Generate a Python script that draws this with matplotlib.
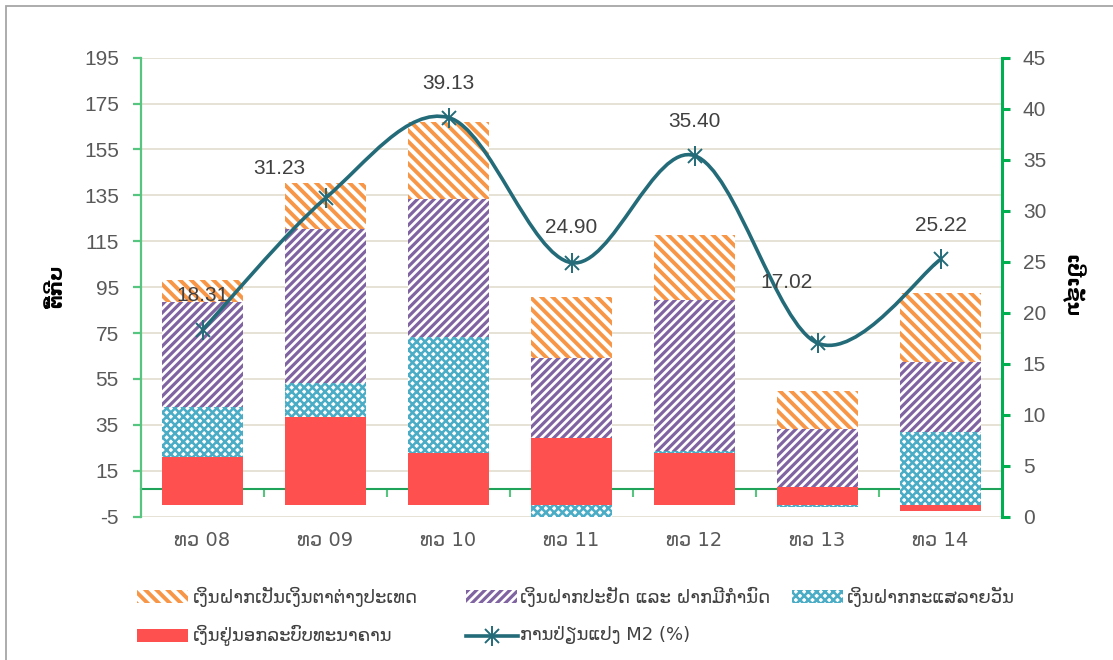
import numpy as np
import matplotlib
matplotlib.use('Agg')
import matplotlib.pyplot as plt
from matplotlib.patches import Rectangle, PathPatch
from matplotlib.path import Path
from matplotlib.lines import Line2D

# ---------------- data ----------------
categories = ['ທວ 08', 'ທວ 09', 'ທວ 10', 'ທວ 11', 'ທວ 12', 'ທວ 13', 'ທວ 14']
currency_outside_banks = [21.0, 38.6, 22.9, 29.2, 22.9, 7.8, -2.6]      # red
demand_deposits = [21.7, 14.6, 50.4, -5.0, 0.6, -0.7, 31.8]             # blue
savings_time_deposits = [46.0, 67.0, 60.1, 34.9, 65.9, 25.3, 30.6]      # purple
foreign_currency_deposits = [9.4, 20.0, 33.5, 26.6, 28.3, 16.8, 30.1]   # orange
m2_growth = [18.31, 31.23, 39.13, 24.90, 35.40, 17.02, 25.22]

name_fx = 'ເງິນຝາກເປັນເງິນຕາຕ່າງປະເທດ'
name_sav = 'ເງິນຝາກປະຢັດ ແລະ ຝາກມີກຳນົດ'
name_dem = 'ເງິນຝາກກະແສລາຍວັນ'
name_cur = 'ເງິນຢູ່ນອກລະບົບທະນາຄານ'
name_m2 = 'ການປ່ຽນແປງ M2 (%)'
left_title = 'ຕື້ກີບ'
right_title = 'ເປີເຊັນ'
left_ticks = list(range(-5, 196, 20))
right_ticks = list(range(0, 46, 5))

# ---------------- style ----------------
C_ORANGE = '#F79646'
C_PURPLE = '#8064A2'
C_BLUE = '#4BACC6'
C_RED = '#FF5050'
C_LINE = '#236B78'
C_GREEN = '#00B050'
C_GREEN_L = '#55C57F'
C_TICK = '#595959'
C_GRID = '#E4DFD2'
FONT = ['DejaVu Sans']
NUMFONT = ['Liberation Sans', 'DejaVu Sans']
H_ORANGE = '\\\\\\'
H_PURPLE = '////'
H_BLUE = 'xxxx'
HLW_ORANGE = 2.8
HLW_PURPLE = 2.3
HLW_BLUE = 1.85

plt.rcParams['font.family'] = FONT
plt.rcParams['hatch.linewidth'] = HLW_PURPLE
plt.rcParams['axes.unicode_minus'] = False

W, H = 1113, 660
fig = plt.figure(figsize=(W / 100, H / 100), dpi=100)
fx = lambda px: px / W
fy = lambda py: 1 - py / H

ax = fig.add_axes([fx(141), fy(516.7), fx(1002) - fx(141), fy(57.7) - fy(516.7)])
x = np.arange(len(categories))
ax.set_xlim(-0.5, len(categories) - 0.5)
ax.set_ylim(-5, 195)

# stacked bars (positive and negative stacks separately)
series = [
    (currency_outside_banks, dict(color=C_RED, linewidth=0), HLW_PURPLE),
    (demand_deposits, dict(facecolor='white', edgecolor=C_BLUE, hatch=H_BLUE, linewidth=0), HLW_BLUE),
    (savings_time_deposits, dict(facecolor='white', edgecolor=C_PURPLE, hatch=H_PURPLE, linewidth=0), HLW_PURPLE),
    (foreign_currency_deposits, dict(facecolor='white', edgecolor=C_ORANGE, hatch=H_ORANGE, linewidth=0), HLW_ORANGE),
]
pos_b = np.zeros(len(x))
neg_b = np.zeros(len(x))
bw = 0.663
for vals, kw, hlw in series:
    v = np.array(vals, dtype=float)
    bottom = np.where(v >= 0, pos_b, neg_b)
    with plt.rc_context({'hatch.linewidth': hlw}):
        bars = ax.bar(x, v, bottom=bottom, width=bw, zorder=2, **kw)
        for b in bars:
            if hasattr(b, 'set_hatch_linewidth'):
                b.set_hatch_linewidth(hlw)
    pos_b = pos_b + np.where(v >= 0, v, 0)
    neg_b = neg_b + np.where(v < 0, v, 0)

ax.set_yticks(left_ticks)
ax.yaxis.grid(True, color=C_GRID, linewidth=1.3)
ax.set_axisbelow(True)
for s in ['top', 'right', 'bottom']:
    ax.spines[s].set_visible(False)
ax.spines['left'].set_color(C_GREEN_L)
ax.spines['left'].set_linewidth(1.6)
ax.tick_params(axis='y', length=6, width=1.6, color=C_GREEN_L, labelcolor=C_TICK,
               labelsize=15, pad=10)
for t in ax.get_yticklabels():
    t.set_family(NUMFONT)
ax.set_xticks(x)
ax.set_xticklabels(categories)
ax.tick_params(axis='x', length=0, labelcolor=C_TICK, labelsize=14, pad=10)

# green category axis line crossing above the bottom
sec = ax.secondary_xaxis((6.9 + 5) / 200)
sec.set_xticks(x[:-1] + 0.5)
sec.tick_params(axis='x', direction='out', length=6, width=1.5, color=C_GREEN_L,
                labelbottom=False, labeltop=False)
for s in sec.spines.values():
    s.set_color('#1FA35A')
    s.set_linewidth(1.5)

# right axis
ax2 = ax.twinx()
ax2.set_ylim(0, 45)
ax2.set_yticks(right_ticks)
for s in ['top', 'left', 'bottom']:
    ax2.spines[s].set_visible(False)
ax2.spines['right'].set_color(C_GREEN)
ax2.spines['right'].set_linewidth(2.2)
ax2.tick_params(axis='y', length=6, width=2.2, color=C_GREEN, labelcolor=C_TICK,
                labelsize=15, pad=9)
for t in ax2.get_yticklabels():
    t.set_family(NUMFONT)


def smooth_path(xs, ys):
    P = np.column_stack([xs, ys]).astype(float)
    n = len(P)
    verts = [P[0]]
    codes = [Path.MOVETO]
    for i in range(n - 1):
        p0 = P[i - 1] if i > 0 else P[i]
        p1, p2 = P[i], P[i + 1]
        p3 = P[i + 2] if i + 2 < n else P[i + 1]
        verts += [p1 + (p2 - p0) / 6, p2 - (p3 - p1) / 6, p2]
        codes += [Path.CURVE4] * 3
    return Path(verts, codes)


ax2.add_patch(PathPatch(smooth_path(x, m2_growth), fill=False, edgecolor=C_LINE,
                        linewidth=2.6, zorder=3, capstyle='round', joinstyle='round'))
ax2.plot(x, m2_growth, linestyle='none', marker='x', ms=10, mew=1.4, color=C_LINE, zorder=4)
ax2.plot(x, m2_growth, linestyle='none', marker='|', ms=14, mew=1.4, color=C_LINE, zorder=4)

label_offsets = [(0, 34), (-46, 30), (0, 34), (0, 35), (0, 34), (-31, 61), (0, 34)]
for xi, v, off in zip(x, m2_growth, label_offsets):
    ax2.annotate(f'{v:.2f}', (xi, v), xytext=off, textcoords='offset pixels',
                 ha='center', va='center', fontsize=15, color='#404040', zorder=5,
                 family=NUMFONT)

# axis titles
fig.text(fx(57), fy(286), left_title, rotation=90, ha='center', va='center',
         fontsize=14, fontweight='bold', color='black')
fig.text(fx(1072), fy(286), right_title, rotation=-90, ha='center', va='center',
         fontsize=14, fontweight='bold', color='black')

# legend (drawn manually to match layout)
def leg_patch(x0, yc, hlw=HLW_PURPLE, **kw):
    with plt.rc_context({'hatch.linewidth': hlw}):
        r = Rectangle((fx(x0), fy(yc + 6.5)), fx(51), 13 / H, transform=fig.transFigure,
                      linewidth=0, **kw)
        if hasattr(r, 'set_hatch_linewidth'):
            r.set_hatch_linewidth(hlw)
    fig.patches.append(r)

def leg_text(x0, yc, s):
    fig.text(fx(x0), fy(yc), s, ha='left', va='center', fontsize=13, color='#404040')

row1, row2 = 596.5, 635.5
leg_patch(137, row1, hlw=HLW_ORANGE, facecolor='white', edgecolor=C_ORANGE, hatch=H_ORANGE)
leg_text(193, row1, name_fx)
leg_patch(466, row1, hlw=HLW_PURPLE, facecolor='white', edgecolor=C_PURPLE, hatch=H_PURPLE)
leg_text(520, row1, name_sav)
leg_patch(792, row1, hlw=HLW_BLUE, facecolor='white', edgecolor=C_BLUE, hatch=H_BLUE)
leg_text(847, row1, name_dem)
leg_patch(137, row2, facecolor=C_RED)
leg_text(193, row2, name_cur)
fig.lines.append(Line2D([fx(466), fx(518)], [fy(row2), fy(row2)], transform=fig.transFigure,
                        color=C_LINE, linewidth=2.6))
fig.lines.append(Line2D([fx(492)], [fy(row2)], transform=fig.transFigure, color=C_LINE,
                        marker='x', ms=10, mew=1.4, linestyle='none'))
fig.lines.append(Line2D([fx(492)], [fy(row2)], transform=fig.transFigure, color=C_LINE,
                        marker='|', ms=14, mew=1.4, linestyle='none'))
leg_text(520, row2, name_m2)

# outer frame
fig.patches.append(Rectangle((fx(5.5), -0.2), 1.2, fy(5.5) + 0.2, transform=fig.transFigure,
                             fill=False, edgecolor='#A6A6A6', linewidth=1.3))

fig.savefig('out.png', dpi=100)
